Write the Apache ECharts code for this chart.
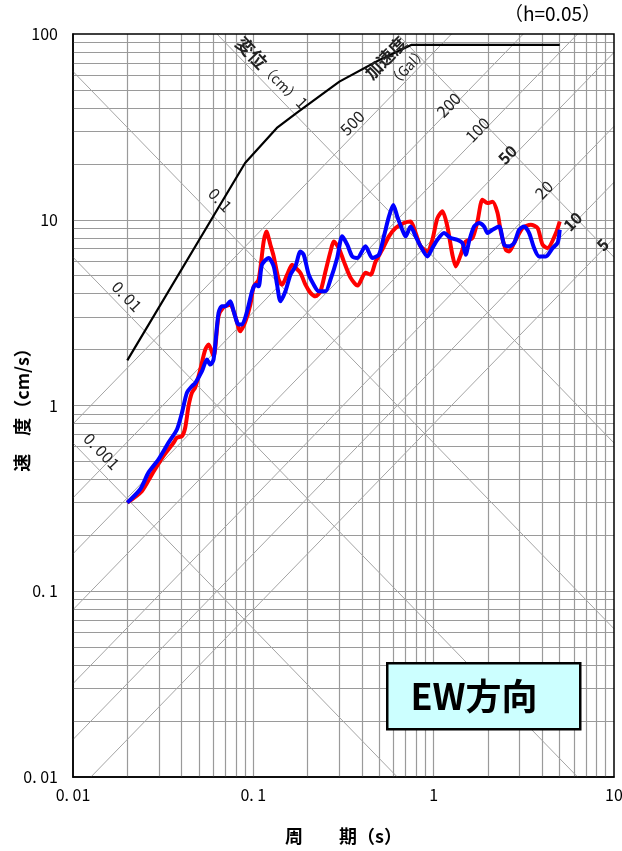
<!DOCTYPE html>
<html><head><meta charset="utf-8">
<script src="https://cdn.jsdelivr.net/npm/echarts@6/dist/echarts.min.js"></script>
<style>html,body{margin:0;padding:0;background:#fff}#c{width:622px;height:851px}</style>
</head><body><div id="c"></div>
<script>
// ---- data ----
const xTickValues=[0.01,0.1,1,10];
const xTickLabels=['0. 01','0. 1','1','10'];
const yTickValues=[0.01,0.1,1,10,100];
const yTickLabels=['0. 01','0. 1','1','10','100'];
const dispLevels=[0.001,0.01,0.1,1,10];          // displacement lines (cm)
const accLevels=[5,10,20,50,100,200,500];         // acceleration lines (Gal)
const dispLabelText=['0. 001','0. 01','0. 1','1'];
const accLabelText=['500','200','100','50','20','10','5'];

const blackT=[0.02,0.09,0.135,0.174,0.30,0.50,0.75,5.0];
const blackV=[1.75,20.2,31.2,37.6,55.4,72.5,87.3,87.3];

const redT=[0.02,0.0241,0.0274,0.0317,0.0361,0.0377,0.0402,0.0419,0.0437,0.0456,0.0476,0.0508,0.0541,0.0565,0.0602,0.0641,0.0681,0.0745,0.0794,0.0847,0.0903,0.0962,0.1004,0.107,0.1141,0.1181,0.1243,0.1297,0.1382,0.1443,0.1539,0.1641,0.1711,0.1825,0.1945,0.2074,0.2211,0.2356,0.2512,0.2678,0.2793,0.2978,0.3175,0.3458,0.3784,0.419,0.4467,0.4763,0.5188,0.5646,0.615,0.6839,0.7451,0.7943,0.8469,0.9226,0.9835,1.049,1.118,1.191,1.27,1.325,1.413,1.506,1.641,1.749,1.865,1.988,2.119,2.259,2.356,2.512,2.62,2.793,3.11,3.458,3.768,4.017,4.282,4.763,5.0];
const redV=[0.300,0.346,0.426,0.534,0.630,0.671,0.684,0.759,0.991,1.17,1.25,1.56,2.00,2.13,1.84,3.02,3.37,3.49,3.02,2.51,2.83,3.49,4.36,4.76,7.64,8.65,7.34,6.35,4.76,4.47,5.06,5.73,5.52,5.17,4.47,4.04,3.87,4.12,5.27,6.75,7.64,7.04,5.97,4.88,4.42,5.19,5.06,5.95,6.90,8.14,9.02,9.60,9.79,8.48,7.19,6.75,7.80,10.2,11.1,9.20,6.48,5.61,6.48,7.64,7.97,9.79,12.8,12.3,12.5,10.9,8.65,6.90,6.75,7.49,9.02,9.40,9.02,7.34,7.04,8.48,9.79];

const blueT=[0.02,0.0236,0.0262,0.0298,0.0338,0.0377,0.0402,0.0428,0.0456,0.0476,0.0519,0.0553,0.0577,0.0602,0.0641,0.067,0.0699,0.0745,0.0778,0.0829,0.0865,0.0923,0.0984,0.1026,0.107,0.1117,0.1216,0.1297,0.1354,0.1413,0.1506,0.1606,0.1711,0.1825,0.1903,0.2029,0.2163,0.2306,0.2512,0.2678,0.2917,0.311,0.3317,0.3534,0.3769,0.419,0.4564,0.4967,0.5297,0.5646,0.5972,0.6284,0.6699,0.6988,0.7451,0.7943,0.8469,0.9226,0.9835,1.049,1.141,1.243,1.354,1.443,1.506,1.571,1.675,1.785,1.903,1.988,2.119,2.306,2.458,2.62,2.793,2.978,3.174,3.384,3.607,3.846,4.19,4.564,4.866,5.0];
const blueV=[0.300,0.354,0.435,0.513,0.630,0.743,0.914,1.17,1.27,1.32,1.53,1.77,1.66,1.77,3.15,3.42,3.42,3.64,3.21,2.73,2.73,3.21,4.12,4.47,4.38,5.73,6.23,5.61,4.47,3.64,4.12,5.06,5.61,6.75,6.48,5.06,4.47,4.12,4.12,4.76,6.23,8.14,7.34,6.35,6.23,7.19,6.23,6.48,8.14,10.4,12.0,10.4,8.84,8.14,9.20,8.14,7.19,6.35,7.04,7.80,8.48,7.97,7.80,7.49,6.48,7.64,9.20,9.60,9.20,8.48,8.84,9.20,7.34,7.19,7.49,8.84,9.20,8.48,7.04,6.35,6.35,7.04,7.49,8.84];

// ---- layout (label anchor positions in data space) ----
const dispLabelPos=[[0.01443,0.568],[0.0199,3.87],[0.0656,12.8],[0.1865,42.6]];
const accLabelPos=[[0.3534,33.2],[1.21,41.5],[1.749,30.5],[2.567,22.4],[4.084,14.5],[5.895,9.79],[8.654,7.34]];
const accLabelBold=[false,false,false,true,false,true,true];

const FONT='"Noto Sans CJK JP","Noto Sans",sans-serif';
const TMIN=0.01,TMAX=10,VMIN=0.01,VMAX=100;
const L=Math.log10;

// grid lines
const gridData=[];
for(let e=-2;e<=0;e++)for(let m=1;m<=9;m++){const t=m*Math.pow(10,e);if(t>TMIN*1.0001)gridData.push({coords:[[t,VMIN],[t,VMAX]]});}
for(let e=-2;e<=1;e++)for(let m=1;m<=9;m++){const v=m*Math.pow(10,e);if(v>VMIN*1.0001)gridData.push({coords:[[TMIN,v],[TMAX,v]]});}

// diagonal lines, clipped to the plot box in log space
const diagData=[];
dispLevels.forEach(D=>{const c=L(2*Math.PI*D);const t1=Math.max(L(TMIN),c-L(VMAX)),t2=Math.min(L(TMAX),c-L(VMIN));
 if(t1<t2)diagData.push({coords:[[10**t1,10**(c-t1)],[10**t2,10**(c-t2)]]});});
accLevels.forEach(A=>{const k=L(A/(2*Math.PI));const t1=Math.max(L(TMIN),L(VMIN)-k),t2=Math.min(L(TMAX),L(VMAX)-k);
 if(t1<t2)diagData.push({coords:[[10**t1,10**(t1+k)],[10**t2,10**(t2+k)]]});});

const zip=(a,b)=>a.map((v,i)=>[v,b[i]]);
function tickFmt(vals,labs){return v=>{for(let i=0;i<vals.length;i++){if(Math.abs(L(v)-L(vals[i]))<1e-6)return labs[i];}return '';};}

const chart=echarts.init(document.getElementById('c'));
chart.setOption({
 animation:false,
 textStyle:{fontFamily:FONT},
 grid:{left:73,right:8,top:34,bottom:74,outerBoundsMode:'none',containLabel:false,show:true,borderColor:'#000',borderWidth:1.5,backgroundColor:'transparent',z:10},
 xAxis:{type:'log',logBase:10,min:TMIN,max:TMAX,
  axisLine:{show:true,lineStyle:{color:'#000',width:1.5}},axisTick:{show:false},splitLine:{show:false},
  axisLabel:{color:'#000',fontSize:16,margin:10,fontFamily:FONT,formatter:tickFmt(xTickValues,xTickLabels),showMaxLabel:true,showMinLabel:true},
  name:'周　　期（s）',nameLocation:'middle',nameGap:50,nameMoveOverlap:false,nameTextStyle:{color:'#000',fontSize:18,fontWeight:'bold',fontFamily:FONT}},
 yAxis:{type:'log',logBase:10,min:VMIN,max:VMAX,
  axisLine:{show:true,lineStyle:{color:'#000',width:1.5}},axisTick:{show:false},splitLine:{show:false},
  axisLabel:{color:'#000',fontSize:16,margin:15,fontFamily:FONT,formatter:tickFmt(yTickValues,yTickLabels)},
  name:'速　度（cm/s）',nameLocation:'middle',nameRotate:90,nameGap:42,nameMoveOverlap:false,nameTextStyle:{color:'#000',fontSize:18,fontWeight:'bold',fontFamily:FONT}},
 series:[
  {type:'lines',coordinateSystem:'cartesian2d',silent:true,z:1,data:gridData,lineStyle:{color:'#9a9a9a',width:1.2,opacity:1}},
  {type:'lines',coordinateSystem:'cartesian2d',silent:true,z:1,data:diagData,lineStyle:{color:'#a4a4a4',width:1,opacity:1}},
  {type:'line',name:'black',z:4,data:zip(blackT,blackV),showSymbol:false,symbol:'none',lineStyle:{color:'#000',width:2.2}},
  {type:'line',name:'NS',z:5,data:zip(redT,redV),symbol:'none',smooth:0.25,lineStyle:{color:'#ff0000',width:4}},
  {type:'line',name:'EW',z:6,data:zip(blueT,blueV),symbol:'none',smooth:0.25,lineStyle:{color:'#0000ff',width:4}}
 ]
});

// diagonal-line labels, placed through the chart's own coordinate conversion
const g=[];
function addLabel(pos,text,rotDeg,opts){
 const p=chart.convertToPixel({gridIndex:0},pos);
 g.push({type:'text',x:p[0],y:p[1],rotation:rotDeg*Math.PI/180,z:8,silent:true,
  style:Object.assign({text:text,fontSize:16,fill:'#222',fontFamily:FONT,align:'center',verticalAlign:'middle'},opts||{})});
}
dispLabelText.forEach((t,i)=>addLabel(dispLabelPos[i],t,-46));
addLabel([0.1212,64.0],'{b|変位}{n|（cm）}',-46,{rich:{b:{fontSize:18,fontWeight:'bold',fontFamily:FONT,fill:'#222'},n:{fontSize:14,fontFamily:FONT,fill:'#222'}}});
accLabelText.forEach((t,i)=>addLabel(accLabelPos[i],t,46,{fontWeight:accLabelBold[i]?'bold':'normal'}));
addLabel([0.5412,74.3],'加速度',46,{fontWeight:'bold',fontSize:17});
addLabel([0.7143,66.5],'（Gal）',46,{fontSize:14});
g.push({type:'text',left:504,top:4,style:{text:'（h=0.05）',fontSize:19,fill:'#000',fontFamily:FONT}});
g.push({type:'rect',left:386,top:662,z:20,shape:{width:193,height:66},style:{fill:'#ccffff',stroke:'#000',lineWidth:2.5}});
g.push({type:'text',z:21,x:474,y:696,style:{text:'EW方向',fontSize:36,fontWeight:'bold',fill:'#000',fontFamily:FONT,align:'center',verticalAlign:'middle'}});
chart.setOption({graphic:g});
</script></body></html>
